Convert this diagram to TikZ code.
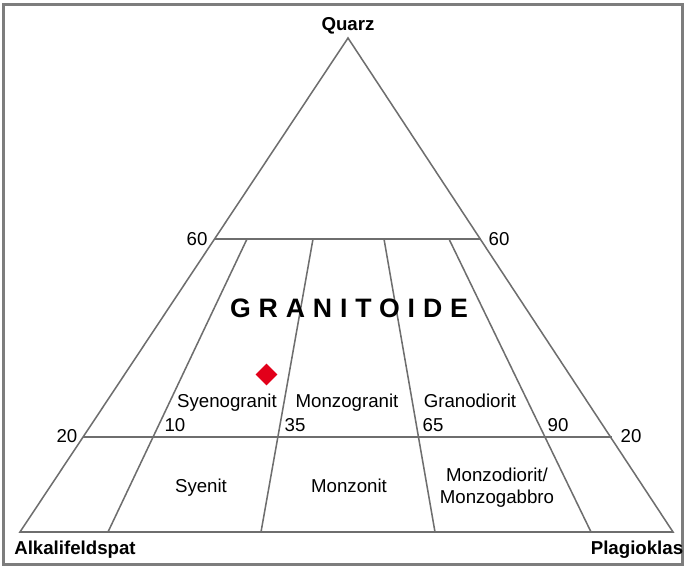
\documentclass[tikz,border=0pt]{standalone}
\usepackage{fontspec}
\setmainfont{Liberation Sans}
\usetikzlibrary{shapes.geometric}
\definecolor{linegrey}{RGB}{110,110,110}
\definecolor{framegrey}{RGB}{125,125,125}
\definecolor{markred}{RGB}{226,0,26}

\begin{document}
\begin{tikzpicture}[x=0.75pt,y=0.75pt]
    \tikzset{%
      edge/.style={linegrey, line width=1.15pt},
      lbl/.style={inner sep=0pt, text height=10pt, text depth=3pt,
        font=\fontsize{14}{16.5}\selectfont},
      twoline/.style={inner sep=0pt, align=center,
        font=\fontsize{14}{16.5}\selectfont},
      corner/.style={inner sep=0pt, text height=10pt, text depth=3pt,
        font=\fontsize{14}{16.5}\selectfont\bfseries},
      sample/.style={diamond, fill=markred, inner sep=0pt,
        minimum width=16.5pt, minimum height=16.5pt},
    }
    \useasboundingbox (0,0) rectangle (685,568);
    \draw [framegrey, line width=1.6pt] (3.5,3.5) rectangle (682.5,563.5);

    \coordinate (Q) at (348,530);
    \coordinate (A) at (20,36);
    \coordinate (P) at (673,36);
    \draw [edge] (A) -- (Q) -- (P) -- cycle;

    \coordinate (L60) at (215,329);
    \coordinate (R60) at (481,329);
    \draw [edge] (L60) -- (R60);
    \coordinate (L20) at (83,131);
    \coordinate (R20) at (612,131);
    \draw [edge] (L20) -- (R20);

    \coordinate (T10) at (247,329);
    \coordinate (B10) at (108,36);
    \draw [edge] (T10) -- (B10);
    \coordinate (T35) at (313,329);
    \coordinate (B35) at (261,36);
    \draw [edge] (T35) -- (B35);
    \coordinate (T65) at (384,329);
    \coordinate (B65) at (435,36);
    \draw [edge] (T65) -- (B65);
    \coordinate (T90) at (449,329);
    \coordinate (B90) at (591,36);
    \draw [edge] (T90) -- (B90);

    \node[corner] (quarz) at (348,542) {Quarz};
    \node[corner] (alkali) at (75,18) {Alkalifeldspat};
    \node[corner] (plagio) at (637,18) {Plagioklas};

    \node[lbl] (q60l) at (197,327) {60};
    \node[lbl] (q60r) at (499,327) {60};
    \node[lbl] (q20l) at (67,130) {20};
    \node[lbl] (q20r) at (631,130) {20};
    \node[lbl] (p10) at (175,141) {10};
    \node[lbl] (p35) at (295,141) {35};
    \node[lbl] (p65) at (433,141) {65};
    \node[lbl] (p90) at (558,141) {90};

    \node[inner sep=0pt, font=\fontsize{20}{24}\selectfont\bfseries\addfontfeature{LetterSpace=29.6}]
      (granit) at (349,260) {GRANITOIDE};

    \node[lbl] (syenogr) at (227,165) {Syenogranit};
    \node[lbl] (monzogr) at (347,165) {Monzogranit};
    \node[lbl] (granodi) at (470,165) {Granodiorit};
    \node[lbl] (syenit) at (201,80) {Syenit};
    \node[lbl] (monzon) at (349,80) {Monzonit};
    \node[twoline] (monzodi) at (497,80) {Monzodiorit/\\Monzogabbro};

    \node[sample] (probe) at (266.5,193.5) {};
  \end{tikzpicture}
\end{document}
